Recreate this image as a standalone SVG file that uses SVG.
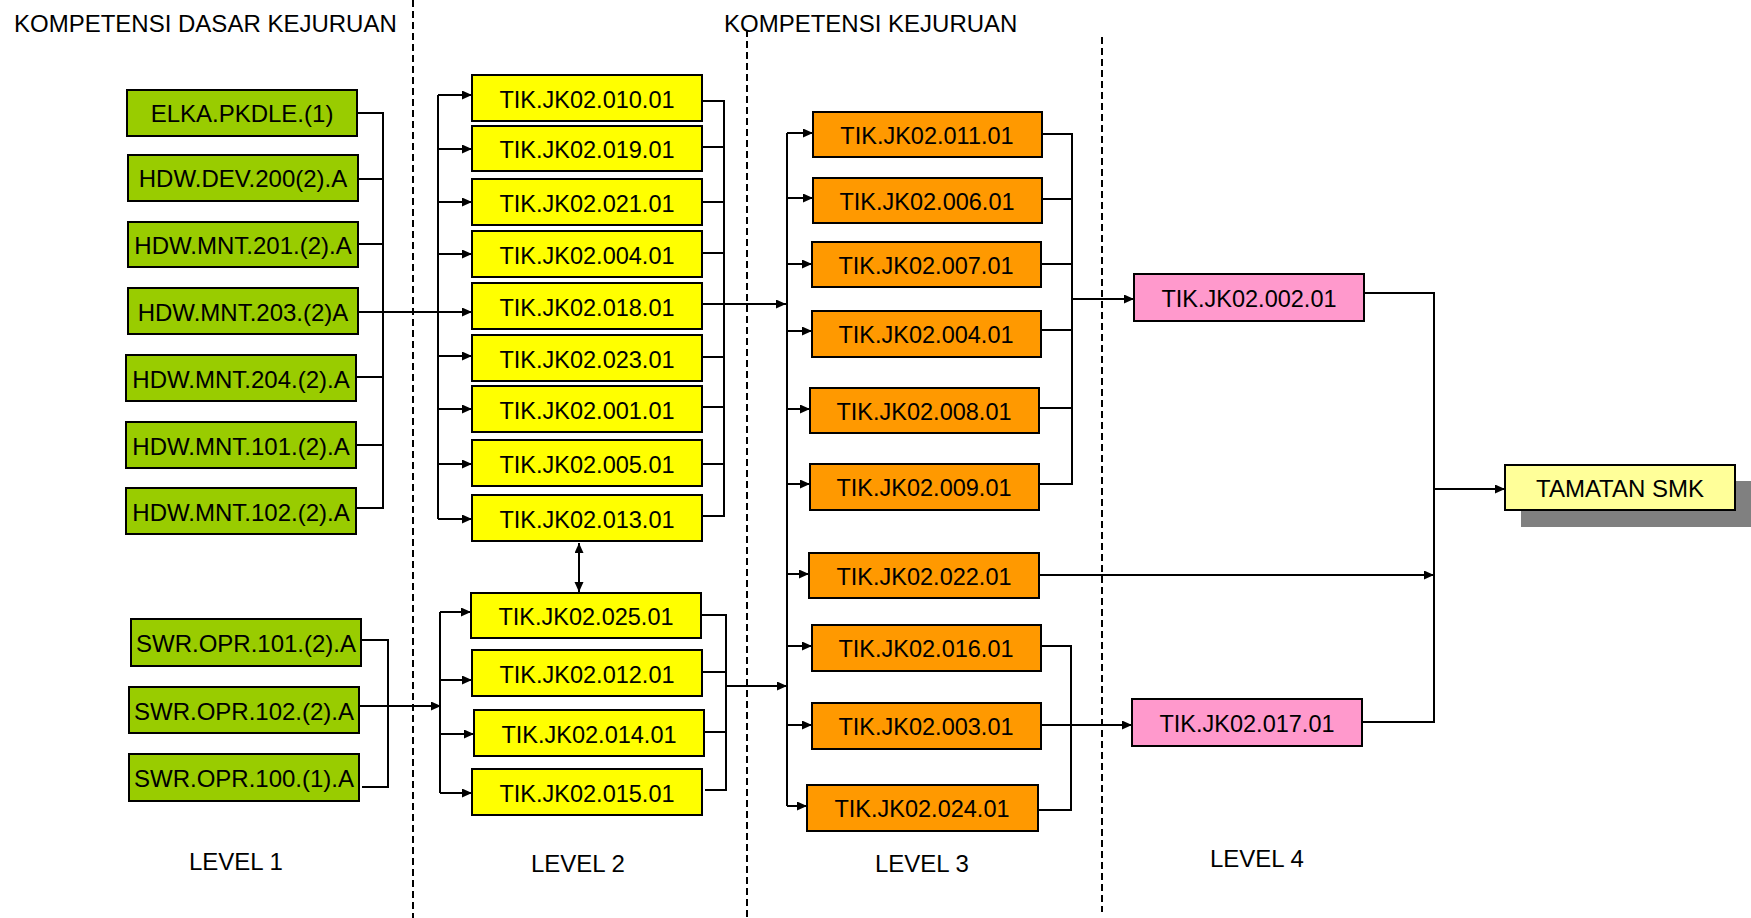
<svg xmlns="http://www.w3.org/2000/svg" width="1751" height="918" viewBox="0 0 1751 918">
<style>
.bx{stroke:#000;stroke-width:2}
.g{fill:#99CC00}.y{fill:#FFFF00}.o{fill:#FF9900}.p{fill:#FF99CC}.ly{fill:#FFFF99}
text{font-family:"Liberation Sans",Arial,sans-serif;fill:#000}
.t{font-size:24px;text-anchor:middle}
.k{font-size:23.5px;text-anchor:middle}
.lb{font-size:24px}
.c line,.c path{stroke:#000;stroke-width:2;fill:none}
.a{marker-end:url(#ah)}
.d{stroke:#000;stroke-width:2;stroke-dasharray:7 4}
</style>
<defs>
<marker id="ah" markerUnits="userSpaceOnUse" markerWidth="11" markerHeight="10" refX="10" refY="4.5" orient="auto-start-reverse" viewBox="0 0 11 10"><path d="M0,0 L10,4.5 L0,9 z" fill="#000"/></marker>
</defs>
<rect width="1751" height="918" fill="#fff"/>
<g id="dividers">
<line class="d" x1="413" y1="0" x2="413" y2="918"/>
<line class="d" x1="747" y1="30" x2="747" y2="918"/>
<line class="d" x1="1102" y1="37" x2="1102" y2="912"/>
</g>
<g id="labels">
<text class="lb" x="14" y="32">KOMPETENSI DASAR KEJURUAN</text>
<text class="lb" x="724" y="32">KOMPETENSI KEJURUAN</text>
<text class="lb" x="189" y="870">LEVEL 1</text>
<text class="lb" x="531" y="872">LEVEL 2</text>
<text class="lb" x="875" y="872">LEVEL 3</text>
<text class="lb" x="1210" y="867">LEVEL 4</text>
</g>
<g id="connectors" class="c">
<path d="M357,113 H383 V508 H356"/>
<line x1="358" y1="179" x2="383" y2="179"/>
<line x1="358" y1="244" x2="383" y2="244"/>
<line x1="356" y1="377" x2="383" y2="377"/>
<line x1="356" y1="445" x2="383" y2="445"/>
<line class="a" x1="358" y1="312" x2="472" y2="312"/>
<path d="M361,640 H388 V787 H362"/>
<line class="a" x1="359" y1="706" x2="441" y2="706"/>
<line x1="438" y1="95" x2="438" y2="519"/>
<line class="a" x1="438" y1="95" x2="472" y2="95"/>
<line class="a" x1="438" y1="149" x2="472" y2="149"/>
<line class="a" x1="438" y1="202" x2="472" y2="202"/>
<line class="a" x1="438" y1="254" x2="472" y2="254"/>
<line class="a" x1="438" y1="356" x2="472" y2="356"/>
<line class="a" x1="438" y1="409" x2="472" y2="409"/>
<line class="a" x1="438" y1="464" x2="472" y2="464"/>
<line class="a" x1="438" y1="519" x2="472" y2="519"/>
<path d="M702,101 H724 V516 H702"/>
<line x1="702" y1="147" x2="724" y2="147"/>
<line x1="702" y1="202" x2="724" y2="202"/>
<line x1="702" y1="253" x2="724" y2="253"/>
<line x1="702" y1="357" x2="724" y2="357"/>
<line x1="702" y1="407" x2="724" y2="407"/>
<line x1="702" y1="464" x2="724" y2="464"/>
<line class="a" x1="702" y1="304" x2="786" y2="304"/>
<line x1="579" y1="543" x2="579" y2="592" marker-start="url(#ah)" marker-end="url(#ah)"/>
<line x1="440" y1="612" x2="440" y2="793"/>
<line class="a" x1="440" y1="612" x2="471" y2="612"/>
<line class="a" x1="440" y1="680" x2="472" y2="680"/>
<line class="a" x1="440" y1="734" x2="474" y2="734"/>
<line class="a" x1="440" y1="793" x2="472" y2="793"/>
<path d="M701,615 H726 V790 H705"/>
<line x1="702" y1="672" x2="726" y2="672"/>
<line x1="704" y1="732" x2="726" y2="732"/>
<line class="a" x1="726" y1="686" x2="787" y2="686"/>
<line x1="787" y1="133" x2="787" y2="806"/>
<line class="a" x1="787" y1="133" x2="813" y2="133"/>
<line class="a" x1="787" y1="198" x2="813" y2="198"/>
<line class="a" x1="787" y1="264" x2="812" y2="264"/>
<line class="a" x1="787" y1="331" x2="812" y2="331"/>
<line class="a" x1="787" y1="409" x2="810" y2="409"/>
<line class="a" x1="787" y1="484" x2="810" y2="484"/>
<line class="a" x1="787" y1="574" x2="809" y2="574"/>
<line class="a" x1="787" y1="646" x2="812" y2="646"/>
<line class="a" x1="787" y1="725" x2="812" y2="725"/>
<line class="a" x1="787" y1="806" x2="807" y2="806"/>
<path d="M1042,134 H1072 V484 H1039"/>
<line x1="1042" y1="199" x2="1072" y2="199"/>
<line x1="1041" y1="264" x2="1072" y2="264"/>
<line x1="1041" y1="330" x2="1072" y2="330"/>
<line x1="1039" y1="408" x2="1072" y2="408"/>
<line class="a" x1="1072" y1="299" x2="1134" y2="299"/>
<line class="a" x1="1039" y1="575" x2="1434" y2="575"/>
<path d="M1041,646 H1071 V810 H1038"/>
<line class="a" x1="1041" y1="725" x2="1132" y2="725"/>
<path d="M1364,293 H1434 V722 H1362"/>
<line class="a" x1="1434" y1="489" x2="1505" y2="489"/>
</g>
<g id="n-elka"><rect class="bx g" x="127" y="90" width="230" height="46"/><text class="t" x="242" y="122">ELKA.PKDLE.(1)</text></g>
<g id="n-hdw-dev-200"><rect class="bx g" x="128" y="155" width="230" height="46"/><text class="t" x="243" y="187">HDW.DEV.200(2).A</text></g>
<g id="n-hdw-mnt-201"><rect class="bx g" x="128" y="222" width="230" height="45"/><text class="t" x="243" y="254">HDW.MNT.201.(2).A</text></g>
<g id="n-hdw-mnt-203"><rect class="bx g" x="128" y="288" width="230" height="46"/><text class="t" x="243" y="321">HDW.MNT.203.(2)A</text></g>
<g id="n-hdw-mnt-204"><rect class="bx g" x="126" y="355" width="230" height="46"/><text class="t" x="241" y="388">HDW.MNT.204.(2).A</text></g>
<g id="n-hdw-mnt-101"><rect class="bx g" x="126" y="422" width="230" height="46"/><text class="t" x="241" y="455">HDW.MNT.101.(2).A</text></g>
<g id="n-hdw-mnt-102"><rect class="bx g" x="126" y="488" width="230" height="46"/><text class="t" x="241" y="521">HDW.MNT.102.(2).A</text></g>
<g id="n-swr-101"><rect class="bx g" x="131" y="619" width="230" height="47"/><text class="t" x="246" y="652">SWR.OPR.101.(2).A</text></g>
<g id="n-swr-102"><rect class="bx g" x="129" y="687" width="230" height="46"/><text class="t" x="244" y="720">SWR.OPR.102.(2).A</text></g>
<g id="n-swr-100"><rect class="bx g" x="129" y="754" width="230" height="47"/><text class="t" x="244" y="787">SWR.OPR.100.(1).A</text></g>
<g id="n-010"><rect class="bx y" x="472" y="75" width="230" height="46"/><text class="k" x="587" y="108">TIK.JK02.010.01</text></g>
<g id="n-019"><rect class="bx y" x="472" y="126" width="230" height="45"/><text class="k" x="587" y="158">TIK.JK02.019.01</text></g>
<g id="n-021"><rect class="bx y" x="472" y="179" width="230" height="46"/><text class="k" x="587" y="212">TIK.JK02.021.01</text></g>
<g id="n-004a"><rect class="bx y" x="472" y="231" width="230" height="46"/><text class="k" x="587" y="264">TIK.JK02.004.01</text></g>
<g id="n-018"><rect class="bx y" x="472" y="283" width="230" height="46"/><text class="k" x="587" y="316">TIK.JK02.018.01</text></g>
<g id="n-023"><rect class="bx y" x="472" y="335" width="230" height="46"/><text class="k" x="587" y="368">TIK.JK02.023.01</text></g>
<g id="n-001"><rect class="bx y" x="472" y="386" width="230" height="46"/><text class="k" x="587" y="419">TIK.JK02.001.01</text></g>
<g id="n-005"><rect class="bx y" x="472" y="440" width="230" height="46"/><text class="k" x="587" y="473">TIK.JK02.005.01</text></g>
<g id="n-013"><rect class="bx y" x="472" y="495" width="230" height="46"/><text class="k" x="587" y="528">TIK.JK02.013.01</text></g>
<g id="n-025"><rect class="bx y" x="471" y="593" width="230" height="45"/><text class="k" x="586" y="625">TIK.JK02.025.01</text></g>
<g id="n-012"><rect class="bx y" x="472" y="650" width="230" height="46"/><text class="k" x="587" y="683">TIK.JK02.012.01</text></g>
<g id="n-014"><rect class="bx y" x="474" y="710" width="230" height="46"/><text class="k" x="589" y="743">TIK.JK02.014.01</text></g>
<g id="n-015"><rect class="bx y" x="472" y="769" width="230" height="46"/><text class="k" x="587" y="802">TIK.JK02.015.01</text></g>
<g id="n-011"><rect class="bx o" x="813" y="112" width="229" height="45"/><text class="k" x="927" y="144">TIK.JK02.011.01</text></g>
<g id="n-006"><rect class="bx o" x="813" y="178" width="229" height="45"/><text class="k" x="927" y="210">TIK.JK02.006.01</text></g>
<g id="n-007"><rect class="bx o" x="812" y="242" width="229" height="45"/><text class="k" x="926" y="274">TIK.JK02.007.01</text></g>
<g id="n-004b"><rect class="bx o" x="812" y="311" width="229" height="46"/><text class="k" x="926" y="343">TIK.JK02.004.01</text></g>
<g id="n-008"><rect class="bx o" x="810" y="388" width="229" height="45"/><text class="k" x="924" y="420">TIK.JK02.008.01</text></g>
<g id="n-009"><rect class="bx o" x="810" y="464" width="229" height="46"/><text class="k" x="924" y="496">TIK.JK02.009.01</text></g>
<g id="n-022"><rect class="bx o" x="809" y="553" width="230" height="45"/><text class="k" x="924" y="585">TIK.JK02.022.01</text></g>
<g id="n-016"><rect class="bx o" x="812" y="625" width="229" height="46"/><text class="k" x="926" y="657">TIK.JK02.016.01</text></g>
<g id="n-003"><rect class="bx o" x="812" y="703" width="229" height="46"/><text class="k" x="926" y="735">TIK.JK02.003.01</text></g>
<g id="n-024"><rect class="bx o" x="807" y="785" width="231" height="46"/><text class="k" x="922" y="817">TIK.JK02.024.01</text></g>
<g id="n-002"><rect class="bx p" x="1134" y="274" width="230" height="47"/><text class="k" x="1249" y="307">TIK.JK02.002.01</text></g>
<g id="n-017"><rect class="bx p" x="1132" y="699" width="230" height="47"/><text class="k" x="1247" y="732">TIK.JK02.017.01</text></g>
<g id="n-tamatan"><rect x="1521" y="481" width="230" height="46" fill="#808080"/><rect class="bx ly" x="1505" y="465" width="230" height="45"/><text class="t" x="1620" y="497">TAMATAN SMK</text></g>
</svg>
